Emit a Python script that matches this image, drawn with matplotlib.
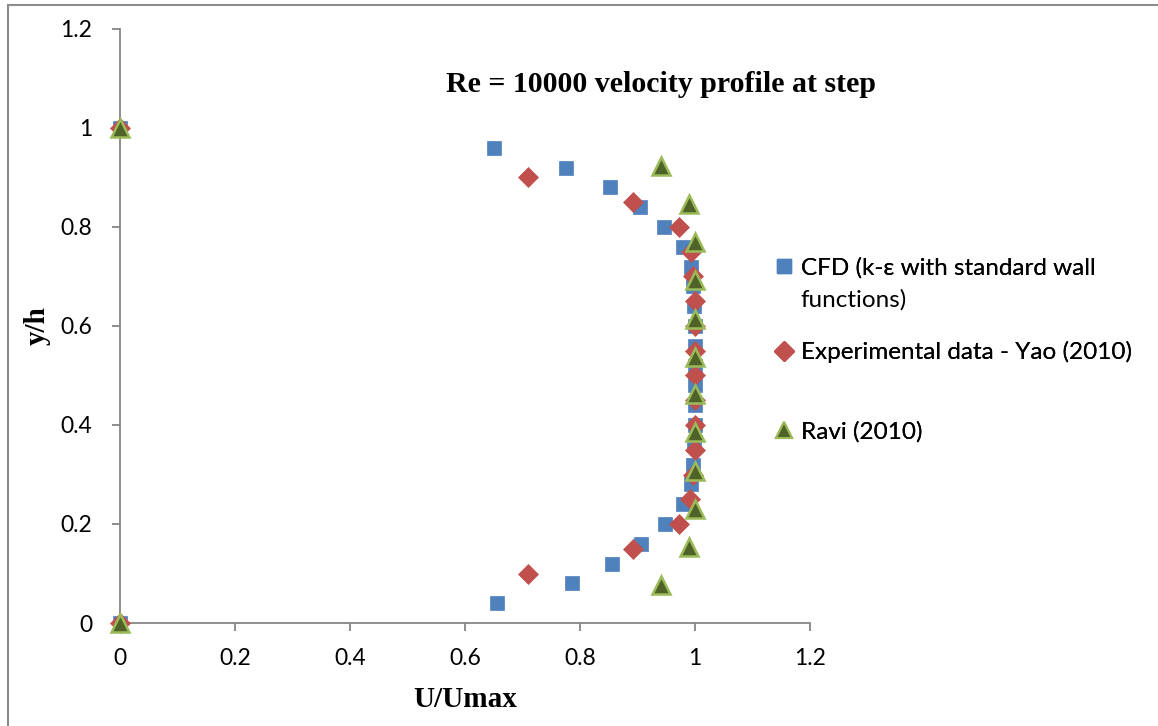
import matplotlib
matplotlib.use("Agg")
import matplotlib.pyplot as plt
from matplotlib.lines import Line2D

# CFD (k-epsilon, standard wall functions)
cfd_y = [0, 0.04, 0.08, 0.12, 0.16, 0.20, 0.24, 0.28, 0.32, 0.36, 0.40, 0.44,
         0.48, 0.52, 0.56, 0.60, 0.64, 0.68, 0.72, 0.76, 0.80, 0.84, 0.88,
         0.92, 0.96, 1.0]
cfd_u = [0, 0.656, 0.786, 0.856, 0.906, 0.948, 0.979, 0.993, 0.997, 0.999,
         1.0, 1.0, 1.0, 1.0, 1.0, 1.0, 0.999, 0.997, 0.993, 0.979, 0.946,
         0.904, 0.852, 0.776, 0.650, 0]

# Experimental data - Yao (2010)
exp_y = [0, 0.10, 0.15, 0.20, 0.25, 0.30, 0.35, 0.40, 0.45, 0.50, 0.55, 0.60,
         0.65, 0.70, 0.75, 0.80, 0.85, 0.90, 1.0]
exp_u = [0, 0.71, 0.892, 0.972, 0.991, 0.997, 1.0, 1.0, 1.0, 1.0, 1.0, 1.0,
         1.0, 0.997, 0.993, 0.972, 0.892, 0.71, 0]

# Ravi (2010)
ravi_y = [0, 0.077, 0.154, 0.231, 0.308, 0.385, 0.462, 0.538, 0.615, 0.692,
          0.769, 0.846, 0.923, 1.0]
ravi_u = [0, 0.94, 0.99, 1.0, 1.0, 1.0, 1.0, 1.0, 1.0, 1.0, 1.0, 0.99,
          0.941, 0]

cfd_label = ["CFD (k-\u03b5 with standard wall", "functions)"]
exp_label = "Experimental data - Yao (2010)"
ravi_label = "Ravi (2010)"
ticks = [0, 0.2, 0.4, 0.6, 0.8, 1, 1.2]
tick_labels = ["0", "0.2", "0.4", "0.6", "0.8", "1", "1.2"]

blue = "#4F81BD"
red = "#C0504D"
green_fill = "#4F6228"
green_edge = "#9BBB59"
axis_grey = "#868686"

W, H = 1158, 726
fig = plt.figure(figsize=(W / 100, H / 100), dpi=100)
ax = fig.add_axes([120 / W, 1 - 623 / H, 690 / W, 594 / H])

ax.plot(cfd_u, cfd_y, linestyle="none", marker="s", markersize=10.5,
        color=blue, markeredgecolor=blue, markeredgewidth=0.5, zorder=3,
        clip_on=False)
ax.plot(exp_u, exp_y, linestyle="none", marker="D", markersize=10,
        color=red, markeredgecolor=red, markeredgewidth=0.5, zorder=4,
        clip_on=False)
ax.plot(ravi_u, ravi_y, linestyle="none", marker="^", markersize=13,
        color=green_fill, markeredgecolor=green_edge, markeredgewidth=1.8,
        zorder=5, clip_on=False)

ax.set_xlim(0, 1.2)
ax.set_ylim(0, 1.2)
ax.set_xticks(ticks)
ax.set_xticklabels(tick_labels)
ax.set_yticks(ticks)
ax.set_yticklabels(tick_labels)
for s in ("top", "right"):
    ax.spines[s].set_visible(False)
for s in ("left", "bottom"):
    ax.spines[s].set_color(axis_grey)
    ax.spines[s].set_linewidth(1.3)
    ax.spines[s].set_zorder(1)
ax.tick_params(axis="both", direction="out", length=6, width=1.3,
               color=axis_grey, labelsize=16.5)
ax.tick_params(axis="x", pad=12)
ax.tick_params(axis="y", pad=14)
for lab in ax.get_xticklabels() + ax.get_yticklabels():
    lab.set_fontfamily("Lato")
ax.set_facecolor("none")

ax.set_xlabel("U/Umax", fontfamily="Liberation Serif", fontweight="bold",
              fontsize=21, labelpad=12)
ax.set_ylabel("y/h", fontfamily="Liberation Serif", fontweight="bold",
              fontsize=21, labelpad=7)

fig.text(661 / W, 1 - 85 / H, "Re = 10000 velocity profile at step",
         fontfamily="Liberation Serif", fontweight="bold", fontsize=21.5,
         ha="center", va="center")

# legend entries, one block per series
leg_font = {"family": "Lato", "size": 17.5}
leg_kw = dict(loc="center left", frameon=False, prop=leg_font,
              handlelength=0.8, handletextpad=0.3, borderaxespad=0,
              borderpad=0)
leg_x = 774 / W
entries = [
    (Line2D([], [], linestyle="none", marker="s", markersize=10, color=blue),
     cfd_label[0], 268),
    (Line2D([], [], linestyle="none", marker="D", markersize=10, color=red),
     exp_label, 352),
    (Line2D([], [], linestyle="none", marker="^", markersize=12,
            color=green_fill, markeredgecolor=green_edge,
            markeredgewidth=1.5),
     ravi_label, 432),
]
for handle, text, ypix in entries:
    fig.add_artist(fig.legend([handle], [text],
                              bbox_to_anchor=(leg_x, 1 - ypix / H), **leg_kw))
fig.legend([Line2D([], [], linestyle="none")], [cfd_label[1]],
           bbox_to_anchor=(leg_x, 1 - 300 / H), **leg_kw)

# outer chart frame (left and top edges)
fig.add_artist(Line2D([8 / W, 8 / W], [0, 1 - 5 / H],
                      transform=fig.transFigure, color="#8c8c8c", lw=1.5))
fig.add_artist(Line2D([8 / W, 1], [1 - 5 / H, 1 - 5 / H],
                      transform=fig.transFigure, color="#8c8c8c", lw=1.5))

fig.savefig("out.png", dpi=100)
